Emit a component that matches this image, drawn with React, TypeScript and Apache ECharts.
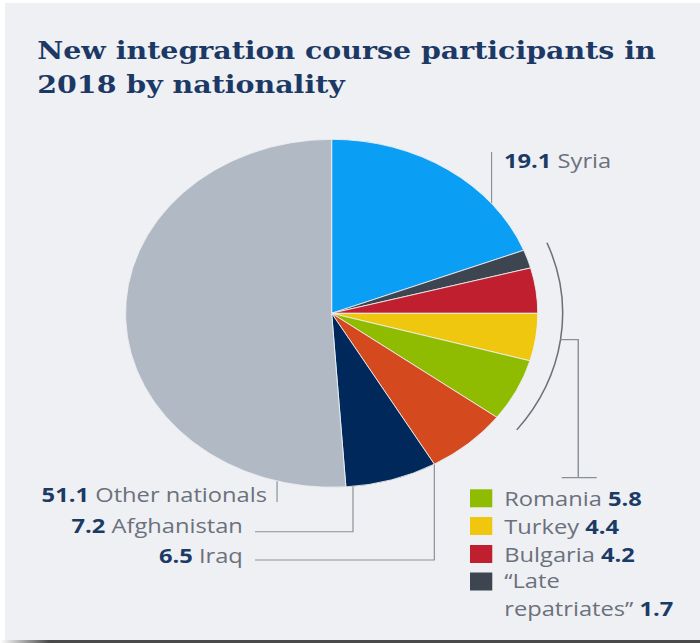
import React, { useEffect, useRef } from 'react';
import * as echarts from 'echarts';

// The reference image is horizontally stretched; we draw at a narrower width and stretch with CSS.
const SX = 1.1845;
const W = 591;
const H = 643;

const titleText = 'New integration course participants in\n2018 by nationality';
const categories = ['Syria', '“Late repatriates”', 'Bulgaria', 'Turkey', 'Romania', 'Iraq', 'Afghanistan', 'Other nationals'];
const values = [19.1, 1.7, 4.2, 4.4, 5.8, 6.5, 7.2, 51.1];
const colors = ['#0a9ef5', '#3d4550', '#c01f2f', '#f0c70f', '#8fbc00', '#d4491d', '#00285a', '#b1bac4'];
const legendIdx = [4, 3, 2, 1];
const legendLabels = ['Romania', 'Turkey', 'Bulgaria', '“Late\nrepatriates”'];

const NAVY = '#1b3a66';
const GREY_TXT = '#6b717c';
const LINE = '#8b9098';
const FONT = '"Open Sans", "Noto Sans", sans-serif';

export default function App() {
  const ref = useRef<HTMLDivElement>(null);
  useEffect(() => {
    if (!ref.current) return;
    const chart = echarts.init(ref.current, undefined, { renderer: 'svg' });
    const cx = 280, cy = 313.3, R = 174;
    const total = values.reduce((a, b) => a + b, 0);
    const cum = (n: number) => values.slice(0, n).reduce((a, b) => a + b, 0) / total;
    const toRad = (frac: number) => (frac * 360 - 90) * Math.PI / 180;
    const a0 = toRad(cum(1));
    const a1 = toRad(cum(5));
    const am = (a0 + a1) / 2;
    const br = 195;
    const bx = cx + br * Math.cos(am), by = cy + br * Math.sin(am);

    const rich = {
      v: { fontFamily: FONT, fontSize: 20, fontWeight: 'bold', fill: NAVY, color: NAVY },
      n: { fontFamily: FONT, fontSize: 20, fill: GREY_TXT, color: GREY_TXT },
    };
    const label = (i: number, name: string) => `{v|${values[i]} }{n|${name}}`;

    const graphics: any[] = [
      { type: 'rect', z: -10, shape: { x: 4.2, y: 3, width: W, height: 637 }, style: { fill: '#eff0f3' }, silent: true },
      {
        type: 'rect', z: -9, shape: { x: 0, y: 640, width: W, height: 3 }, silent: true,
        style: { fill: new echarts.graphic.LinearGradient(0, 0, 1, 0, [{ offset: 0, color: '#ffffff' }, { offset: 0.07, color: '#4a4a4a' }, { offset: 1, color: '#4a4a4a' }]) },
      },
      // Syria callout
      { type: 'line', shape: { x1: 415, y1: 152, x2: 415, y2: 222 }, style: { stroke: LINE, lineWidth: 1 } },
      { type: 'circle', shape: { cx: 415, cy: 222, r: 1.4 }, style: { fill: '#555' } },
      { type: 'text', style: { x: 425.5, y: 160, text: label(0, categories[0]), rich, align: 'left', verticalAlign: 'middle' } },
      // Other nationals callout
      { type: 'line', shape: { x1: 233.9, y1: 453, x2: 233.9, y2: 502 }, style: { stroke: LINE, lineWidth: 1 } },
      { type: 'circle', shape: { cx: 233.9, cy: 453, r: 1.4 }, style: { fill: '#666' } },
      { type: 'text', style: { x: 225.4, y: 494, text: label(7, categories[7]), rich, align: 'right', verticalAlign: 'middle' } },
      // Afghanistan callout
      { type: 'polyline', shape: { points: [[298, 480], [298, 531.7], [215.3, 531.7]] }, style: { stroke: LINE, lineWidth: 1, fill: 'none' } },
      { type: 'circle', shape: { cx: 298, cy: 480, r: 1.4 }, style: { fill: '#8a96aa' } },
      { type: 'text', style: { x: 205, y: 525, text: label(6, categories[6]), rich, align: 'right', verticalAlign: 'middle' } },
      // Iraq callout
      { type: 'polyline', shape: { points: [[366.7, 454], [366.7, 560], [215.3, 560]] }, style: { stroke: LINE, lineWidth: 1, fill: 'none' } },
      { type: 'circle', shape: { cx: 366.7, cy: 454, r: 1.4 }, style: { fill: '#555' } },
      { type: 'text', style: { x: 205, y: 555, text: label(5, categories[5]), rich, align: 'right', verticalAlign: 'middle' } },
      // Bracket
      { type: 'arc', shape: { cx, cy, r: br, startAngle: a0, endAngle: a1, clockwise: true }, style: { stroke: '#6c7078', lineWidth: 1.3, fill: 'none' } },
      { type: 'polyline', shape: { points: [[bx, by], [488.2, by], [488.2, 477.7]] }, style: { stroke: '#8b9098', lineWidth: 1.2, fill: 'none' } },
      { type: 'line', shape: { x1: 474.2, y1: 477.7, x2: 503.8, y2: 477.7 }, style: { stroke: '#8b9098', lineWidth: 1.2 } },
    ];

    // Legend
    const rowY = [498.3, 526, 554, 581.5];
    legendIdx.forEach((idx, k) => {
      graphics.push({ type: 'rect', shape: { x: 396.8, y: rowY[k] - 9, width: 18.8, height: 18 }, style: { fill: colors[idx] } });
      const lbl = legendLabels[k];
      const parts = lbl.split('\n');
      if (parts.length === 1) {
        graphics.push({ type: 'text', style: { x: 425.7, y: rowY[k], text: `{n|${parts[0]} }{v|${values[idx]}}`, rich, align: 'left', verticalAlign: 'middle' } });
      } else {
        graphics.push({ type: 'text', style: { x: 425.7, y: rowY[k] - 1.5, text: `{n|${parts[0]}}`, rich, align: 'left', verticalAlign: 'middle' } });
        graphics.push({ type: 'text', style: { x: 425.7, y: rowY[k] + 26.5, text: `{n|${parts[1]} }{v|${values[idx]}}`, rich, align: 'left', verticalAlign: 'middle' } });
      }
    });

    chart.setOption({
      animation: false,
      backgroundColor: '#ffffff',
      title: {
        text: titleText,
        left: 31.5,
        top: 34,
        padding: 0,
        textStyle: { fontFamily: '"DejaVu Serif", serif', fontWeight: 'bold', fontSize: 24, lineHeight: 33.5, color: '#1c3966' },
      },
      series: [
        {
          type: 'pie',
          center: [cx, cy],
          radius: R,
          startAngle: 90,
          clockwise: true,
          silent: true,
          label: { show: false },
          labelLine: { show: false },
          itemStyle: { borderColor: '#eef0f3', borderWidth: 0.8 },
          data: categories.map((c, i) => ({ name: c, value: values[i], itemStyle: { color: colors[i] } })),
        },
      ],
      graphic: graphics,
    });
    return () => chart.dispose();
  }, []);

  return (
    <div style={{ position: 'fixed', left: 0, top: 0, width: 700, height: H, overflow: 'hidden', background: '#fff' }}>
      <div ref={ref} style={{ width: W, height: H, transform: `scaleX(${SX})`, transformOrigin: '0 0' }} />
    </div>
  );
}
